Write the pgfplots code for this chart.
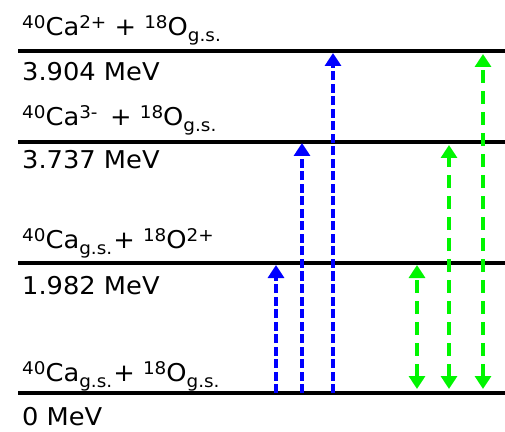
\documentclass[border=0pt]{standalone}
\usepackage{fontspec}
\setmainfont{DejaVu Sans}
\usepackage{graphicx}
\usepackage{pgfplots}
\pgfplotsset{compat=1.18}
\usetikzlibrary{arrows.meta}
\definecolor{myblue}{RGB}{0,0,255}
\definecolor{mygreen}{RGB}{0,245,0}
\newcommand\up[1]{\raisebox{7pt}{\fontsize{17.5}{17.5}\selectfont #1}}
\newcommand\dn[1]{\raisebox{-6pt}{\fontsize{17.5}{17.5}\selectfont #1}}
\newcommand\lab[1]{\scalebox{1.05}[1]{\fontsize{24.5}{24.5}\selectfont #1}}
\begin{document}
\begin{tikzpicture}
\begin{axis}[name=ax, scale only axis, width=505pt, height=431pt,
  xmin=0, xmax=505, ymin=0, ymax=431, hide axis, clip=false]
% energy levels (drawn positions)
\addplot[black, line width=3.4pt] coordinates {(18,380) (505,380)};
\addplot[black, line width=3.4pt] coordinates {(18,289) (505,289)};
\addplot[black, line width=3.4pt] coordinates {(18,168) (505,168)};
\addplot[black, line width=3.4pt] coordinates {(18,38) (505,38)};
% excitation arrows (blue)
\addplot[myblue, line width=3.2pt, dash pattern=on 9pt off 3.5pt, -{Triangle[width=16pt,length=13pt]}] coordinates {(276,38) (276,166)};
\addplot[myblue, line width=3.2pt, dash pattern=on 9pt off 3.5pt, -{Triangle[width=16pt,length=13pt]}] coordinates {(302,38) (302,288)};
\addplot[myblue, line width=3.2pt, dash pattern=on 9pt off 3.5pt, -{Triangle[width=16pt,length=13pt]}] coordinates {(333,38) (333,378)};
% green double arrows
\addplot[mygreen, line width=3.2pt, dash pattern=on 13pt off 8pt, {Triangle[width=16pt,length=13pt]}-{Triangle[width=16pt,length=13pt]}] coordinates {(417,42) (417,166)};
\addplot[mygreen, line width=3.2pt, dash pattern=on 13pt off 8pt, {Triangle[width=16pt,length=13pt]}-{Triangle[width=16pt,length=13pt]}] coordinates {(449,42) (449,286)};
\addplot[mygreen, line width=3.2pt, dash pattern=on 13pt off 8pt, {Triangle[width=16pt,length=13pt]}-{Triangle[width=16pt,length=13pt]}] coordinates {(483,42) (483,377)};
% labels
\node[anchor=base west, inner sep=0pt] at (axis cs:22,395) {\lab{\up{40}Ca\up{2+} + \up{18}O\dn{g.s.}}};
\node[anchor=base west, inner sep=0pt] at (axis cs:22,350) {\lab{3.904 MeV}};
\node[anchor=base west, inner sep=0pt] at (axis cs:22,305) {\lab{\up{40}Ca\up{3-}\, + \up{18}O\dn{g.s.}}};
\node[anchor=base west, inner sep=0pt] at (axis cs:22,262) {\lab{3.737 MeV}};
\node[anchor=base west, inner sep=0pt] at (axis cs:22,182) {\lab{\up{40}Ca\dn{g.s.}\kern1pt+ \up{18}O\up{2+}}};
\node[anchor=base west, inner sep=0pt] at (axis cs:22,137) {\lab{1.982 MeV}};
\node[anchor=base west, inner sep=0pt] at (axis cs:22,50) {\lab{\up{40}Ca\dn{g.s.}\kern1pt+ \up{18}O\dn{g.s.}}};
\node[anchor=base west, inner sep=0pt] at (axis cs:22,6) {\lab{0 MeV}};
\end{axis}
\pgfresetboundingbox
\path (ax.south west) rectangle (ax.north east);
\end{tikzpicture}
\end{document}
